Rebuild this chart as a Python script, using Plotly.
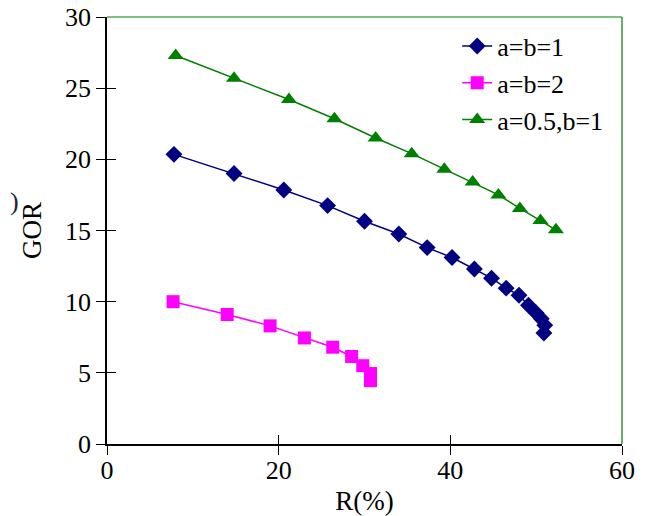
import plotly.graph_objects as go

# Data
r_ab1 = [7.8, 14.8, 20.6, 25.7, 30.0, 34.0, 37.3, 40.2, 42.8, 44.8, 46.5, 48.0, 49.1, 50.0, 50.6, 51.0, 50.9]
gor_ab1 = [20.35, 19.0, 17.85, 16.75, 15.65, 14.75, 13.8, 13.1, 12.3, 11.65, 10.95, 10.45, 9.75, 9.2, 8.8, 8.35, 7.8]

r_ab2 = [7.7, 14.0, 19.0, 23.0, 26.3, 28.5, 29.8, 30.7, 30.7]
gor_ab2 = [10.0, 9.1, 8.3, 7.45, 6.8, 6.15, 5.5, 4.95, 4.45]

r_a05 = [8.0, 14.8, 21.2, 26.5, 31.3, 35.5, 39.3, 42.6, 45.6, 48.1, 50.5, 52.3]
gor_a05 = [27.3, 25.7, 24.2, 22.85, 21.5, 20.4, 19.3, 18.4, 17.5, 16.55, 15.7, 15.05]

series_names = ["a=b=1", "a=b=2", "a=0.5,b=1"]
x_ticks = [0, 20, 40, 60]
y_ticks = [0, 5, 10, 15, 20, 25, 30]

FONT = "Liberation Serif"
fig = go.Figure()

fig.add_trace(go.Scatter(x=r_ab1, y=gor_ab1, name=series_names[0], mode="lines+markers", legendgroup="g1",
                         line=dict(color="#000080", width=1.5),
                         marker=dict(symbol="diamond", size=13, color="#000080")))
fig.add_trace(go.Scatter(x=r_ab2, y=gor_ab2, name=series_names[1], mode="lines+markers", legendgroup="g2",
                         line=dict(color="#FF00FF", width=1.5),
                         marker=dict(symbol="square", size=13, color="#FF00FF")))
fig.add_trace(go.Scatter(x=r_a05, y=gor_a05, name=series_names[2], mode="lines+markers", legendgroup="g3",
                         line=dict(color="#008000", width=1.5),
                         marker=dict(symbol="triangle-up", size=14, color="#008000")))
# dummy trace to render overlay axes (inside ticks)
fig.add_trace(go.Scatter(x=[None], y=[None], xaxis="x2", yaxis="y2", showlegend=False, hoverinfo="skip"))

axis_common = dict(showgrid=False, zeroline=False, ticklen=9, tickwidth=1.3, tickcolor="black",
                   automargin=False)
fig.update_layout(
    width=646, height=516,
    margin=dict(l=107, r=24, t=17, b=72),
    paper_bgcolor="white", plot_bgcolor="white",
    font=dict(family=FONT, size=26, color="black"),
    xaxis=dict(range=[0, 60], tickvals=x_ticks, ticks="outside", showline=True, linecolor="black",
               linewidth=1.5, ticklabelstandoff=-7, ticklabeloverflow="allow",
               title=dict(text="R(%)", font=dict(size=27), standoff=16), **axis_common),
    yaxis=dict(range=[0, 30], tickvals=y_ticks, ticks="outside", showline=True, linecolor="black",
               linewidth=1.5, ticklabeloverflow="allow",
               title=dict(text="GOR", font=dict(size=27), standoff=16), **axis_common),
    xaxis2=dict(range=[0, 60], tickvals=x_ticks, ticks="inside", overlaying="x", anchor="y2",
                showticklabels=False, showline=False, **axis_common),
    yaxis2=dict(range=[0, 30], tickvals=y_ticks, ticks="inside", overlaying="y", anchor="x2",
                showticklabels=False, showline=False, **axis_common),
    legend=dict(x=0.68, y=0.987, xanchor="left", yanchor="top", bgcolor="rgba(0,0,0,0)",
                tracegroupgap=0, font=dict(family=FONT, size=26)),
    showlegend=True,
)

# green top/right frame
fig.add_shape(type="line", xref="paper", yref="paper", x0=0, x1=1, y0=1, y1=1,
              line=dict(color="#008000", width=1.2))
fig.add_shape(type="line", xref="paper", yref="paper", x0=1, x1=1, y0=0, y1=1,
              line=dict(color="#008000", width=1.2))

# fragment of a neighbouring label at the far left
fig.add_annotation(text=")", xref="paper", yref="paper", x=-0.167, y=0.569, xanchor="right",
                   showarrow=False, font=dict(family=FONT, size=26, color="#202040"))

fig.write_html("out.html", config={"displayModeBar": False},
               post_script="document.body.style.margin='0';")
